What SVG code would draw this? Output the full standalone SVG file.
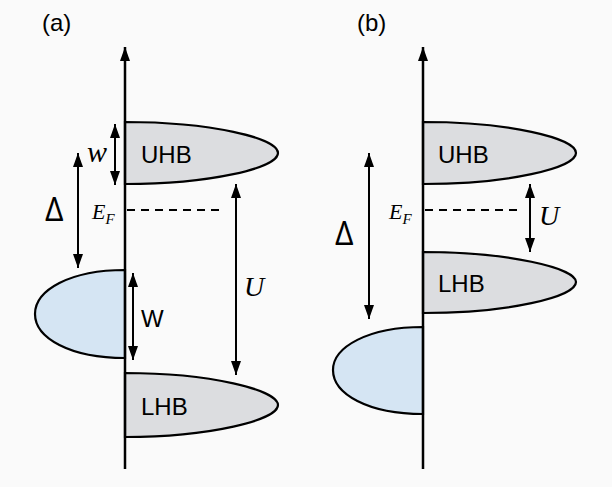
<svg xmlns="http://www.w3.org/2000/svg" width="612" height="487" viewBox="0 0 612 487">
<defs>
<marker id="ah" viewBox="0 0 14 10" refX="14" refY="5" markerWidth="14" markerHeight="10" markerUnits="userSpaceOnUse" orient="auto-start-reverse">
<path d="M0,0 L14,5 L0,10 Z" fill="#000"/>
</marker>
<style>
.ax{stroke:#000;stroke-width:2.5;fill:none}
.ar{stroke:#000;stroke-width:2;fill:none}
.dash{stroke:#000;stroke-width:2;stroke-dasharray:8 6;fill:none}
.gray{fill:#dcdde0;stroke:#000;stroke-width:2.2}
.blue{fill:#d5e5f3;stroke:#000;stroke-width:2.2}
.sans{font-family:"Liberation Sans",Arial,sans-serif;font-size:24px;fill:#000}
.delta{font-family:"Open Sans","Liberation Sans",sans-serif;font-size:32px;fill:#000}
.math{font-family:"Liberation Serif","Times New Roman",serif;font-style:italic;fill:#000}
</style>
</defs>
<rect width="612" height="487" fill="#fafafa"/>

<text class="sans" x="42" y="31">(a)</text>
<text class="sans" x="357" y="31">(b)</text>

<g id="panel-a">
<g id="a-blue"><path class="blue" d="M125,270 C70,270 35,290 35,314 C35,338 70,358 125,358 Z"/></g>
<g id="a-uhb"><path class="gray" d="M125,122 C210,122 278,138 278,153 C278,168 210,184 125,184 Z"/>
<text class="sans" x="141" y="163">UHB</text></g>
<g id="a-lhb"><path class="gray" d="M125,373 C210,373 278,390 278,405 C278,420 210,437 125,437 Z"/>
<text class="sans" x="141" y="415">LHB</text></g>
<g id="a-labels">
<text class="math" x="87" y="162" font-size="30">w</text>
<text class="delta" x="45" y="221">Δ</text>
<text class="math" x="92" y="219" font-size="22">E<tspan font-size="15" dy="5">F</tspan></text>
<text class="math" x="244" y="296" font-size="28">U</text>
<text class="sans" x="141" y="327" font-size="27">W</text>
</g>
</g>

<g id="panel-b">
<g id="b-blue"><path class="blue" d="M423,327 C368,327 333,347 333,370 C333,394 368,414 423,414 Z"/></g>
<g id="b-uhb"><path class="gray" d="M423,122 C508,122 576,138 576,153 C576,168 508,184 423,184 Z"/>
<text class="sans" x="438" y="163">UHB</text></g>
<g id="b-lhb"><path class="gray" d="M423,252 C508,252 576,268 576,282 C576,297 508,313 423,313 Z"/>
<text class="sans" x="438" y="292">LHB</text></g>
<g id="b-labels">
<text class="delta" x="335" y="245">Δ</text>
<text class="math" x="389" y="219" font-size="22">E<tspan font-size="15" dy="5">F</tspan></text>
<text class="math" x="539" y="225" font-size="28">U</text>
</g>
</g>

<g id="connectors">
<line class="ax" x1="125" y1="469" x2="125" y2="47" marker-end="url(#ah)"/>
<line class="ax" x1="423" y1="469" x2="423" y2="47" marker-end="url(#ah)"/>
<line class="ar" x1="115" y1="124" x2="115" y2="185" marker-start="url(#ah)" marker-end="url(#ah)"/>
<line class="ar" x1="78" y1="153" x2="78" y2="268" marker-start="url(#ah)" marker-end="url(#ah)"/>
<line class="ar" x1="236" y1="184" x2="236" y2="375" marker-start="url(#ah)" marker-end="url(#ah)"/>
<line class="ar" x1="133" y1="273" x2="133" y2="360" marker-start="url(#ah)" marker-end="url(#ah)"/>
<line class="dash" x1="127" y1="210" x2="222" y2="210"/>
<line class="ar" x1="369" y1="153" x2="369" y2="319" marker-start="url(#ah)" marker-end="url(#ah)"/>
<line class="ar" x1="530" y1="184" x2="530" y2="252" marker-start="url(#ah)" marker-end="url(#ah)"/>
<line class="dash" x1="425" y1="210" x2="520" y2="210"/>
</g>
</svg>
